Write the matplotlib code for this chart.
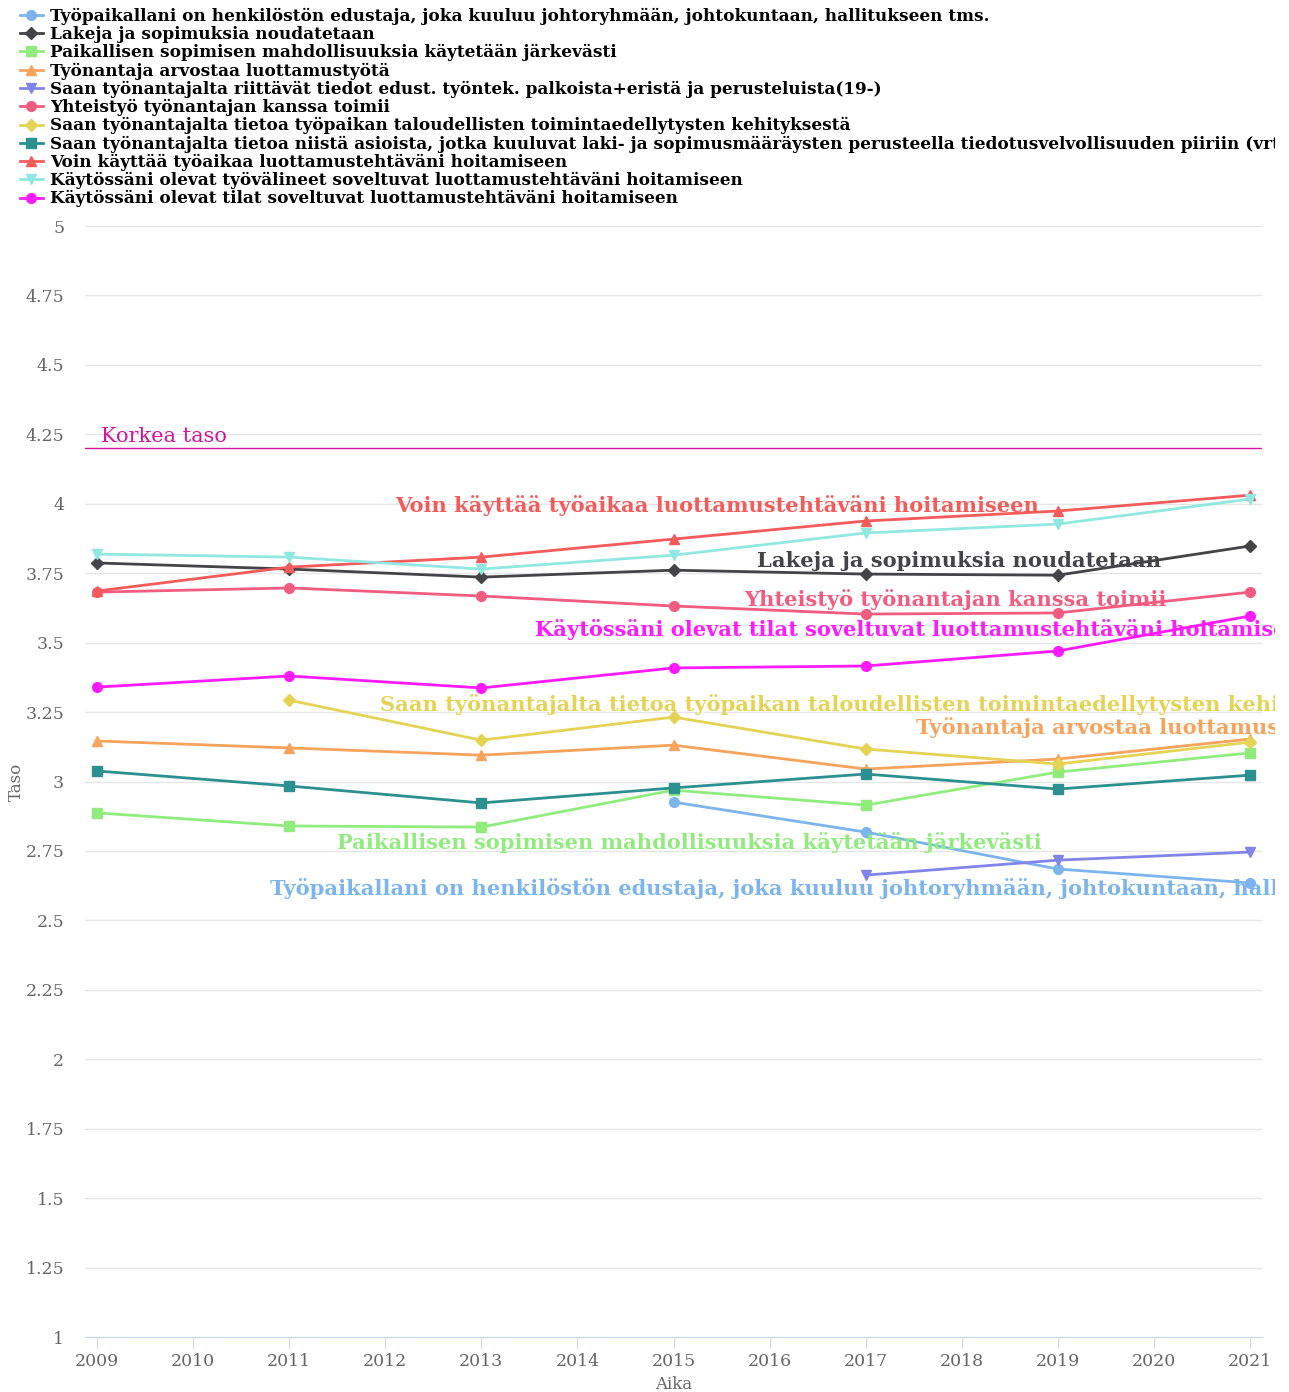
import matplotlib

matplotlib.use("Agg")
import matplotlib.pyplot as plt
import numpy as np
from matplotlib.transforms import Bbox, TransformedBbox

years = [2009, 2011, 2013, 2015, 2017, 2019, 2021]

labels = [
    "Työpaikallani on henkilöstön edustaja, joka kuuluu johtoryhmään, johtokuntaan, hallitukseen tms.",
    "Lakeja ja sopimuksia noudatetaan",
    "Paikallisen sopimisen mahdollisuuksia käytetään järkevästi",
    "Työnantaja arvostaa luottamustyötä",
    "Saan työnantajalta riittävät tiedot edust. työntek. palkoista+eristä ja perusteluista(19-)",
    "Yhteistyö työnantajan kanssa toimii",
    "Saan työnantajalta tietoa työpaikan taloudellisten toimintaedellytysten kehityksestä",
    "Saan työnantajalta tietoa niistä asioista, jotka kuuluvat laki- ja sopimusmääräysten perusteella tiedotusvelvollisuuden piiriin (vrt.)",
    "Voin käyttää työaikaa luottamustehtäväni hoitamiseen",
    "Käytössäni olevat työvälineet soveltuvat luottamustehtäväni hoitamiseen",
    "Käytössäni olevat tilat soveltuvat luottamustehtäväni hoitamiseen",
]

nan = np.nan
values = [
    [nan, nan, nan, 2.926, 2.818, 2.685, 2.635],
    [3.787, 3.765, 3.736, 3.761, 3.747, 3.743, 3.848],
    [2.887, 2.840, 2.836, 2.969, 2.915, 3.034, 3.103],
    [3.146, 3.121, 3.095, 3.131, 3.045, 3.081, 3.153],
    [nan, nan, nan, nan, 2.663, 2.717, 2.746],
    [3.682, 3.697, 3.668, 3.632, 3.603, 3.607, 3.682],
    [nan, 3.293, 3.149, 3.232, 3.117, 3.063, 3.142],
    [3.038, 2.984, 2.923, 2.977, 3.027, 2.973, 3.023],
    [3.686, 3.772, 3.808, 3.873, 3.938, 3.974, 4.031],
    [3.819, 3.808, 3.765, 3.815, 3.895, 3.927, 4.017],
    [3.340, 3.380, 3.337, 3.409, 3.416, 3.470, 3.596],
]

colors = ["#7cb5ec", "#434348", "#90ed7d", "#f7a35c", "#8085e9", "#f15c80",
          "#e4d354", "#2b908f", "#f45b5b", "#91e8e1", "#ff1aff"]
markers = ["o", "D", "s", "^", "v", "o", "D", "s", "^", "v", "o"]

# inline labels: (series index, x start, y)
inline = [
    (8, 2012.10, 3.992),
    (1, 2015.87, 3.794),
    (5, 2015.74, 3.657),
    (10, 2013.56, 3.546),
    (6, 2011.94, 3.279),
    (3, 2017.52, 3.196),
    (2, 2011.50, 2.782),
    (0, 2010.80, 2.613),
]

high_level = 4.2

plt.rcParams["font.family"] = ["DejaVu Serif"]

fig = plt.figure(figsize=(12.89, 13.92), dpi=100)
ax = fig.add_axes([0.066, 0.0395, 0.913, 0.7981])

for lab, vals, c, m in zip(labels, values, colors, markers):
    ms = 6 if m == "D" else 7
    ax.plot(years, vals, color=c, lw=2, marker=m, ms=ms, label=lab, zorder=3)

ax.axhline(high_level, color="#d4149c", lw=1, zorder=2)
ax.text(2009.04, high_level + 0.008, "Korkea taso", color="#d4149c", fontsize=15,
        va="bottom", ha="left")

# long texts run past the plot area and get cut, as in the original
clip = TransformedBbox(Bbox([[0, 0], [1275 / 1289, 1]]), fig.transFigure)
for i, x, y in inline:
    t = ax.text(x, y, labels[i], color=colors[i], fontsize=15.1, fontweight="bold",
                va="center", ha="left", zorder=4)
    t.set_clip_box(clip)
    t.set_clip_on(True)

ax.set_xlim(2008.875, 2021.125)
ax.set_ylim(1, 5)
ax.set_yticks(np.arange(1, 5.01, 0.25))
ax.set_yticklabels([f"{v:g}" for v in np.arange(1, 5.01, 0.25)])
ax.set_xticks(range(2009, 2022))
ax.grid(axis="y", color="#e6e6e6", lw=1)
ax.set_axisbelow(True)
for s in ("left", "right", "top"):
    ax.spines[s].set_visible(False)
ax.spines["bottom"].set_color("#ccd6eb")
ax.tick_params(axis="y", length=0, labelsize=12.5, labelcolor="#666666", pad=15)
ax.tick_params(axis="x", length=8, color="#ccd6eb", labelsize=12.5, labelcolor="#666666")
ax.set_xlabel("Aika", fontsize=12, color="#666666", labelpad=4)
ax.set_ylabel("Taso", fontsize=12, color="#666666")
ax.yaxis.set_label_coords(-0.051, 0.5)

leg = fig.legend(loc="upper left", bbox_to_anchor=(0.008, 1.001), frameon=False,
                 prop={"weight": "bold", "size": 12.15}, handlelength=1.4,
                 handletextpad=0.4, labelspacing=0.065, borderaxespad=0.15)
for t in leg.get_texts():
    t.set_clip_box(clip)
    t.set_clip_on(True)

fig.savefig("out.png", dpi=100)
